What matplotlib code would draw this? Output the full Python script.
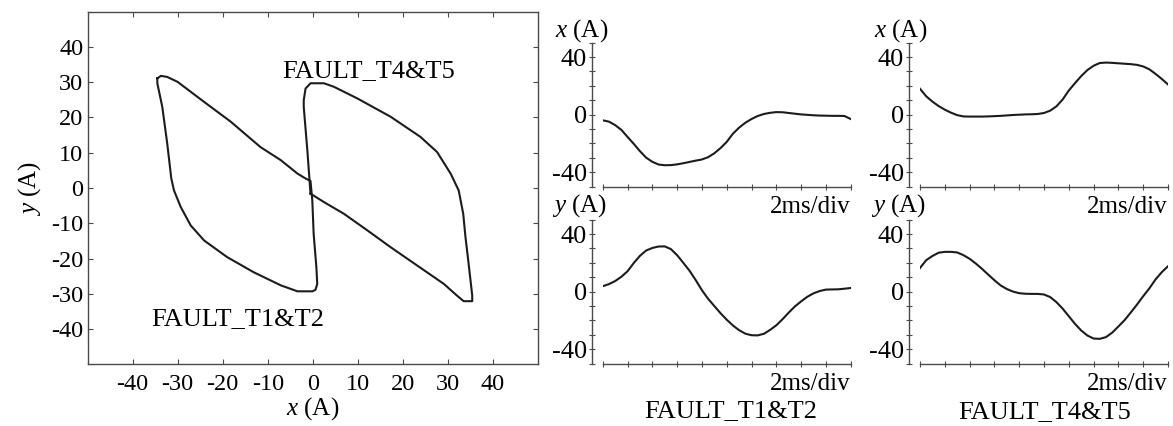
import numpy as np
import matplotlib.pyplot as plt

plt.rcParams['font.family'] = ['Liberation Serif', 'DejaVu Serif']
plt.rcParams['mathtext.fontset'] = 'custom'
plt.rcParams['mathtext.rm'] = 'Liberation Serif'
plt.rcParams['mathtext.it'] = 'Liberation Serif:italic'
plt.rcParams['axes.unicode_minus'] = False

# x-y trajectories (A)
loop12_x = [-34.5, -33.7, -32.3, -30.0, -24.1, -18.2, -11.6, -7.1, -3.4, -1.6,
            -0.5, -0.1, 0.2, 0.8, 1.0, 0.6, -0.1, -3.4, -7.1, -13.1,
            -19.0, -24.1, -27.1, -29.3, -30.8, -31.4, -32.3, -33.4, -34.5, -34.5]
loop12_y = [31.1, 31.8, 31.5, 30.1, 24.4, 18.8, 11.6, 7.9, 4.1, 2.7,
            2.0, -3.5, -13.0, -22.4, -27.2, -28.9, -29.3, -29.3, -27.6, -23.9,
            -19.6, -14.9, -10.6, -5.4, -0.7, 2.7, 12.6, 23.0, 29.7, 31.1]
loop45_x = [-0.5, 2.5, 6.9, 12.1, 17.3, 23.2, 29.1, 32.0, 33.5, 35.4,
            35.4, 34.6, 33.9, 33.4, 32.4, 30.6, 27.6, 23.9, 17.3, 9.9,
            4.7, 2.5, -0.5, -1.6, -2.0, -2.0, -1.2, -0.5]
loop45_y = [-1.6, -4.0, -7.3, -12.0, -16.8, -22.0, -27.2, -30.5, -32.1, -32.1,
            -30.5, -21.5, -13.9, -7.3, -0.7, 4.1, 10.2, 14.5, 20.2, 25.4,
            28.7, 29.7, 29.7, 28.2, 24.9, 23.0, 10.7, -1.6]

# time traces, 2ms/div, read every quarter division
t_div = np.arange(0, 10.01, 0.25)
t12_x = [-3.9, -4.8, -7.2, -10.5, -15.4, -20.2, -25.3, -29.8, -32.7, -34.6,
         -35.1, -35.0, -34.5, -33.7, -32.8, -31.9, -31.1, -29.5, -26.8, -23.2,
         -18.9, -13.2, -9.0, -5.6, -3.0, -0.9, 0.5, 1.3, 1.8, 1.7,
         1.2, 0.7, 0.2, -0.1, -0.4, -0.6, -0.7, -0.8, -0.8, -0.9, -3.0]
t12_y = [3.7, 5.2, 7.3, 10.3, 14.1, 19.8, 24.8, 28.5, 30.3, 31.3,
         31.4, 29.5, 25.3, 20.0, 14.5, 8.0, 1.0, -5.0, -10.0, -15.0,
         -19.5, -23.5, -26.8, -29.2, -30.3, -30.4, -29.3, -26.6, -23.4, -19.2,
         -14.6, -10.3, -6.8, -3.6, -1.2, 0.4, 1.4, 1.5, 1.6, 2.0, 2.5]
t45_x = [18.0, 12.8, 9.1, 6.0, 3.5, 1.4, -0.3, -1.2, -1.3, -1.3,
         -1.3, -1.2, -1.0, -0.8, -0.5, -0.2, 0.0, 0.2, 0.3, 0.5,
         1.2, 2.8, 5.8, 10.5, 16.8, 21.9, 26.8, 31.0, 34.0, 35.9,
         36.2, 36.0, 35.7, 35.4, 35.1, 34.6, 33.5, 31.5, 28.3, 24.8, 21.0]
t45_y = [16.4, 21.8, 24.7, 27.0, 27.6, 27.6, 27.2, 25.3, 22.8, 19.5,
         15.8, 11.8, 7.9, 4.3, 1.8, 0.0, -1.1, -1.5, -1.6, -1.6,
         -2.0, -3.8, -7.3, -11.8, -17.1, -22.4, -27.0, -30.5, -32.6, -32.8,
         -31.6, -28.5, -24.2, -19.8, -14.5, -9.0, -3.2, 2.3, 8.5, 13.5, 17.6]

LINE = '#1c1c1c'
AXC = '#4a4a4a'
W, H = 1173, 426


def fx(px):
    return px / W


def fy(py):
    return 1 - py / H


fig = plt.figure(figsize=(W / 100, H / 100), dpi=100)

# ---- x-y plot ----
ax = fig.add_axes([fx(87.5), fy(364.3), (538 - 87.5) / W, (364.3 - 11.7) / H])
ax.plot(loop12_x, loop12_y, color=LINE, lw=1.5, solid_joinstyle='round')
ax.plot(loop45_x, loop45_y, color=LINE, lw=1.5, solid_joinstyle='round')
ax.set_xlim(-50, 50)
ax.set_ylim(-50, 50)
ax.set_xticks(range(-40, 41, 10))
ax.set_yticks(range(-40, 41, 10))
ax.tick_params(direction='in', top=True, right=True, length=3.5, width=0.8,
               color=AXC, labelsize=17.5)
ax.tick_params(axis='x', pad=7)
ax.tick_params(axis='y', pad=3)
for s in ax.spines.values():
    s.set_color(AXC)
    s.set_linewidth(1.0)
ax.set_xlabel(r'$x$ (A)', fontsize=18, labelpad=0)
ax.set_ylabel(r'$y$ (A)', fontsize=18, labelpad=6)
ax.text(-6.7, 31.4, 'FAULT_T4&T5', fontsize=19)
ax.text(-35.9, -39.0, 'FAULT_T1&T2', fontsize=19)

# ---- time traces ----
panels = [
    (602.7, 42.7, t12_x),
    (602.7, 219.6, t12_y),
    (920.0, 42.7, t45_x),
    (920.0, 219.6, t45_y),
]
for left, top, vals in panels:
    a = fig.add_axes([fx(left), fy(top + 144), 248 / W, 144 / H])
    a.plot(t_div, vals, color=LINE, lw=1.5, solid_joinstyle='round')
    a.set_xlim(0, 10)
    a.set_ylim(-50, 50)
    a.spines['top'].set_visible(False)
    a.spines['right'].set_visible(False)
    a.spines['left'].set_position(('outward', 8))
    for s in ['left', 'bottom']:
        a.spines[s].set_color(AXC)
        a.spines[s].set_linewidth(1.0)
    a.set_xticks(range(11))
    a.set_xticklabels([])
    a.set_yticks([-40, 0, 40])
    a.set_yticks(range(-50, 51, 10), minor=True)
    a.tick_params(which='both', direction='inout', length=5, width=0.8, color=AXC)
    a.tick_params(axis='y', labelsize=19, pad=1)
    fig.text(fx(left + 248), fy(top + 170), '2ms/div', ha='right', va='baseline', fontsize=18)

fig.text(fx(582), fy(36.7), r'$x$ (A)', ha='center', va='baseline', fontsize=18)
fig.text(fx(580), fy(212), r'$y$ (A)', ha='center', va='baseline', fontsize=18)
fig.text(fx(901), fy(36.7), r'$x$ (A)', ha='center', va='baseline', fontsize=18)
fig.text(fx(899), fy(212), r'$y$ (A)', ha='center', va='baseline', fontsize=18)
fig.text(fx(731), fy(416.7), 'FAULT_T1&T2', ha='center', va='baseline', fontsize=19)
fig.text(fx(1045), fy(418), 'FAULT_T4&T5', ha='center', va='baseline', fontsize=19)

fig.savefig('out.png', dpi=100, facecolor='white')
